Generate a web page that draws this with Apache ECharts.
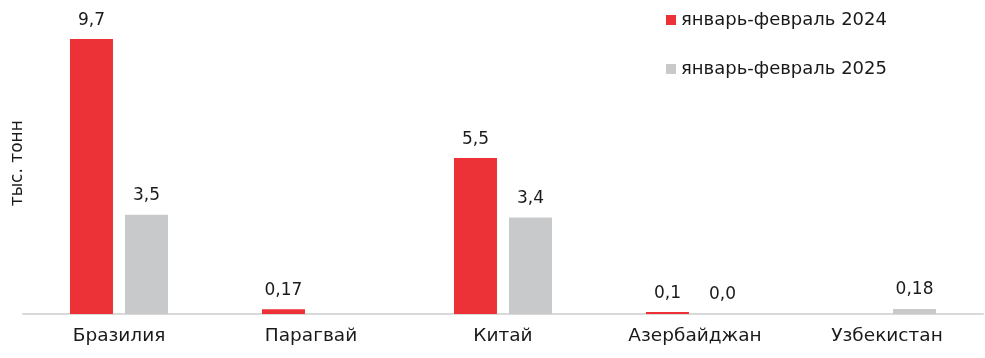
<!DOCTYPE html>
<html><head><meta charset="utf-8">
<script src="https://cdn.jsdelivr.net/npm/echarts@6/dist/echarts.min.js"></script>
<style>html,body{margin:0;padding:0;background:#fff}#c{width:985px;height:358px}</style>
</head><body><div id="c"></div>
<script>
const categories = ['Бразилия','Парагвай','Китай','Азербайджан','Узбекистан'];
const series2024 = [9.7, 0.17, 5.5, 0.07, null];
const series2025 = [3.5, null, 3.4, 0.0, 0.18];
const labels2024 = ['9,7','0,17','5,5','0,1',''];
const labels2025 = ['3,5','','3,4','0,0','0,18'];
const seriesNames = ['январь-февраль 2024','январь-февраль 2025'];
const yName = 'тыс. тонн';

const FONT = 'DejaVu Sans';
const chart = echarts.init(document.getElementById('c'));
chart.setOption({
  animation:false,
  textStyle:{fontFamily:FONT},
  grid:{left:23,right:2,top:30.5,bottom:44,outerBoundsMode:'none',containLabel:false},
  legend:{orient:'vertical',left:661,top:6,itemWidth:10,itemHeight:10,itemGap:31,icon:'rect',
    itemStyle:{borderWidth:0},
    textStyle:{fontSize:18,color:'#1a1a1a',fontFamily:FONT},
    data:seriesNames},
  xAxis:{type:'category',data:categories,
    axisLine:{lineStyle:{color:'#d9d9d9',width:2}},axisTick:{show:false},
    axisLabel:{fontSize:18.5,color:'#1a1a1a',margin:13}},
  yAxis:{type:'value',min:0,max:10,show:true,
    name:yName,nameLocation:'middle',nameRotate:90,nameGap:-3,
    nameTextStyle:{fontSize:17,color:'#1a1a1a',padding:[0,0,0,18]},
    axisLine:{show:false},axisTick:{show:false},axisLabel:{show:false},splitLine:{show:false}},
  series:[
    {name:seriesNames[0],type:'bar',data:series2024,barWidth:43,barGap:'28%',barCategoryGap:'49%',
     itemStyle:{color:'#ED3237'},
     label:{show:true,position:'top',distance:10,fontSize:17,color:'#1a1a1a',
       formatter:p=>labels2024[p.dataIndex]}},
    {name:seriesNames[1],type:'bar',data:series2025,barWidth:43,barGap:'28%',
     itemStyle:{color:'#C8C9CB'},
     label:{show:true,position:'top',distance:11,fontSize:17,color:'#1a1a1a',
       formatter:p=>labels2025[p.dataIndex]}}
  ]
});
</script></body></html>
